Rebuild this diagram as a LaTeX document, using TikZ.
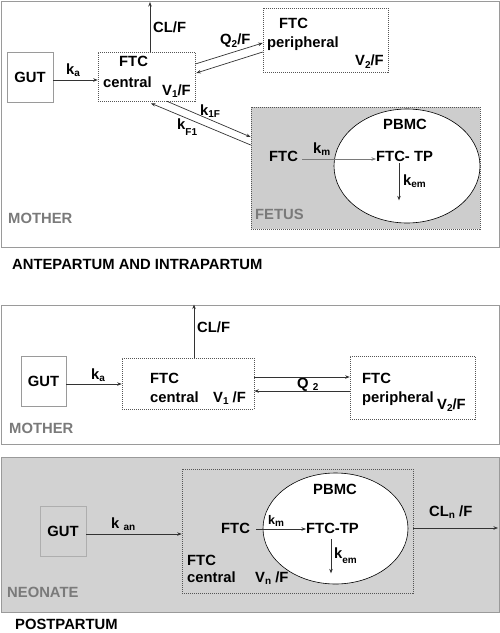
\documentclass[tikz,border=0pt]{standalone}
\usepackage{fontspec}
\setmainfont{Liberation Sans}
\usetikzlibrary{arrows.meta,shapes.geometric}
\definecolor{boxgray}{HTML}{9A9A9A}
\definecolor{dotgray}{HTML}{555555}
\definecolor{arrgray}{HTML}{333333}
\definecolor{labgray}{HTML}{7A7A7A}
\definecolor{fillgray}{HTML}{CDCDCD}
\definecolor{panelgray}{HTML}{D2D2D2}
\newcommand\subt[1]{\raisebox{-2.5pt}{\fontsize{10}{10}\selectfont #1}}
\newcommand\subl[1]{\raisebox{-6pt}{\fontsize{10}{10}\selectfont #1}}
\begin{document}
\begin{tikzpicture}[x=1pt,y=-1pt,
  txt/.style={font=\bfseries\fontsize{14.8}{17}\selectfont, inner sep=0pt, anchor=base west},
  gtxt/.style={txt, text=labgray},
  box/.style={draw=boxgray, line width=0.8pt, inner sep=0pt, font=\bfseries\fontsize{14.8}{17}\selectfont},
  dbox/.style={draw=dotgray, line width=0.6pt, dash pattern=on 1pt off 1pt, inner sep=0pt},
  panel/.style={draw=boxgray, line width=0.9pt, inner sep=0pt},
  arr/.style={draw=arrgray, line width=0.7pt, -{Stealth[length=4.5pt,width=3.5pt]}},
  cell/.style={draw=black, line width=0.6pt, ellipse, fill=white, inner sep=0pt},
]
\useasboundingbox (0,0) rectangle (500,633);

% ================= TOP PANEL =================
\node[panel, minimum width=498, minimum height=246] (panel1) at (250,124) {};
\node[box, fill=white, minimum width=46, minimum height=50] (gut1) at (30,77) {GUT};
\node[dbox, minimum width=97, minimum height=49] (cen1) at (146.5,76.5) {};
\node[dbox, minimum width=125, minimum height=64] (per1) at (325.5,40) {};
\node[dbox, fill=fillgray, minimum width=229, minimum height=122] (fet1) at (365.5,168) {};
\node[cell, minimum width=146, minimum height=114] (ell1) at (407,166) {};
\coordinate (clend1) at (150,2);

\node[txt] (ka1) at (66,74) {k\subt{a}};
\node[txt] (ftc1) at (119,66) {FTC};
\node[txt] (central1) at (103,87) {central};
\node[txt] (v1a) at (162,95) {V\subt{1}/F};
\node[txt] (cl1) at (153,32) {CL/F};
\node[txt] (q2f) at (220,44.5) {Q\subt{2}/F};
\node[txt] (ftcp1) at (279,28) {FTC};
\node[txt] (pert1) at (267,47) {peripheral};
\node[txt] (v2a) at (355,65.5) {V\subt{2}/F};
\node[txt] (k1f) at (200,115) {k\subt{1F}};
\node[txt] (kf1) at (177,129) {k\subl{F1}};
\node[txt] (ftcf) at (269,161) {FTC};
\node[txt] (km1) at (313,153) {k\subt{m}};
\node[txt] (ftctp1) at (376,161) {FTC- TP};
\node[txt] (kem1) at (403,185) {k\subt{em}};
\node[gtxt] (fetus) at (255,219) {FETUS};
\node[txt] (pbmc1) at (383,129) {PBMC};
\node[gtxt] (mother1) at (8,223) {MOTHER};
\node[txt] (ante) at (12,269) {ANTEPARTUM AND INTRAPARTUM};

\draw[arr] ([yshift=-3pt]gut1.east) -- ([yshift=-3pt]gut1.east -| cen1.west);
\draw[arr] ([xshift=3.5pt]cen1.north) -- (clend1);
\draw[arr] ([yshift=12.5pt]cen1.east) -- ([yshift=-3pt]per1.west);
\draw[arr] ([yshift=-12pt]per1.west) -- ([yshift=3.5pt,xshift=1pt]cen1.east);
\draw[arr] ([xshift=20.5pt]cen1.south) -- ([yshift=31pt]fet1.west);
\draw[arr] ([yshift=23pt]fet1.west) -- ([xshift=4.5pt,yshift=-2pt]cen1.south);
\draw[arr, draw=labgray] ([xshift=4pt]ftcf.east |- 0,159) coordinate (kmstart1) -- (kmstart1 -| ftctp1.west);
\draw[arr] ([xshift=23pt,yshift=-2pt]ftctp1.south west) -- ([xshift=23pt,yshift=-39pt]ftctp1.south west);

% ================= MIDDLE PANEL =================
\node[panel, minimum width=498, minimum height=139] (panel2) at (250,374.5) {};
\node[box, fill=white, minimum width=45, minimum height=50] (gut2) at (43.5,381) {GUT};
\node[dbox, minimum width=132, minimum height=51] (cen2) at (188,383.5) {};
\node[dbox, minimum width=125, minimum height=63] (per2) at (412.5,387.5) {};

\node[txt] (ka2) at (91,379) {k\subt{a}};
\node[txt] (ftc2) at (150,383) {FTC};
\node[txt] (central2) at (150,402) {central};
\node[txt] (v1b) at (213,402) {V\subt{1} /F};
\node[txt] (cl2) at (197,332) {CL/F};
\node[txt] (q2) at (297,388) {Q \subt{2}};
\node[txt] (ftcp2) at (362,383) {FTC};
\node[txt] (pert2) at (362,402) {peripheral};
\node[txt] (v2b) at (437,409) {V\subt{2}/F};
\node[gtxt] (mother2) at (9,433) {MOTHER};

\draw[arr] ([yshift=-3pt]gut2.east) -- ([yshift=-3pt]gut2.east -| cen2.west);
\draw[arr] ([xshift=6pt]cen2.north) -- ([xshift=6pt]cen2.north |- panel2.north);
\draw[arr] ([yshift=6.5pt]cen2.east) -- ([yshift=6.5pt]cen2.east -| per2.west);
\draw[arr] ([yshift=-7.5pt]cen2.east -| per2.west) -- ([yshift=-7.5pt]cen2.east);

% ================= BOTTOM PANEL =================
\node[panel, fill=panelgray, minimum width=498, minimum height=155] (panel3) at (250,534.5) {};
\node[box, draw=boxgray!80, minimum width=46, minimum height=50] (gut3) at (63,531) {GUT};
\node[dbox, minimum width=231, minimum height=124] (cen3) at (297.5,531) {};
\node[cell, minimum width=145, minimum height=111] (ell3) at (335.5,528.5) {};
\coordinate (clend3) at (498,528);

\node[txt] (kan) at (111,528) {k \subt{an}};
\node[txt] (ftc3) at (221,533) {FTC};
\node[txt, font=\bfseries\fontsize{12.5}{15}\selectfont] (km3) at (268,524) {k\subt{m}};
\node[txt] (ftctp3) at (306,533) {FTC-TP};
\node[txt] (kem3) at (334,558) {k\raisebox{-5pt}{\fontsize{10}{10}\selectfont em}};
\node[txt] (pbmc3) at (313,494) {PBMC};
\node[txt] (ftcc3) at (187,565) {FTC};
\node[txt] (central3) at (187,582) {central};
\node[txt] (vn) at (255,582) {V\subt{n} /F};
\node[txt] (cln) at (429,516) {CL\subt{n} /F};
\node[gtxt] (neonate) at (7,597) {NEONATE};
\node[txt] (post) at (15,629) {POSTPARTUM};

\draw[arr] ([yshift=-3pt]gut3.east) -- ([yshift=-3pt]gut3.east -| cen3.west);
\draw[arr] ([xshift=6pt]ftc3.east |- 0,529) coordinate (kmstart3) -- (kmstart3 -| ftctp3.west);
\draw[arr] ([xshift=25pt,yshift=-6pt]ftctp3.south west) -- ([xshift=25pt,yshift=-40pt]ftctp3.south west);
\draw[arr] (cen3.east |- clend3) -- (clend3);
\end{tikzpicture}
\end{document}
